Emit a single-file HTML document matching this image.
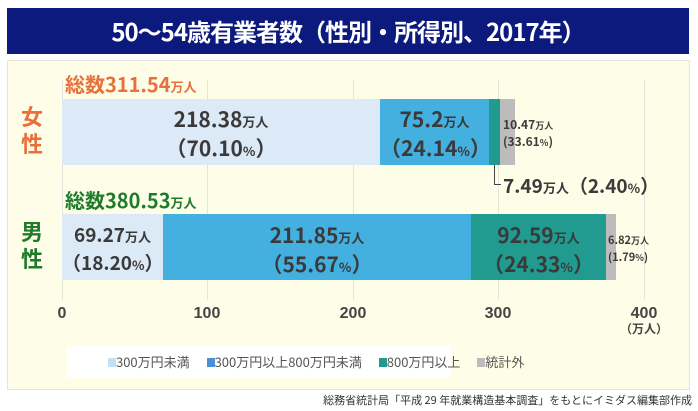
<!DOCTYPE html>
<html><head><meta charset="utf-8"><style>
*{margin:0;padding:0}
body{width:698px;height:411px;background:#fff;position:relative;overflow:hidden;font-family:"Liberation Sans","Noto Sans CJK JP",sans-serif}
.a{position:absolute}
.t{left:7px;top:8px;width:682px;height:46px;background:#0c1a7e;color:#fff;font-weight:bold;font-size:24px;line-height:46px;text-align:center;font-family:"Noto Sans CJK JP",sans-serif;letter-spacing:-1px}
.p{left:7px;top:60px;width:681px;height:328px;background:#fefee8;border:1px solid #e6e6dc}
.g{top:80px;width:1px;height:220px;background:#e4e4d8}
.bar{position:absolute}
.lb{position:absolute;text-align:center;color:#3a3a3a;font-weight:bold;font-family:"Noto Sans CJK JP",sans-serif;line-height:26px;font-size:21px}
.lb small{font-size:13px}
.tk{top:305px;font-weight:bold;color:#444;font-size:16px;width:60px;text-align:center;margin-left:-30px}
</style></head><body>
<div class="a t">50～54歳有業者数（性別・所得別、2017年）</div>
<div class="a p"></div>
<div class="a g" style="left:62px"></div><div class="a g" style="left:207px"></div><div class="a g" style="left:353px"></div><div class="a g" style="left:498px"></div><div class="a g" style="left:644px"></div>
<div class="a" style="left:21px;top:103px;color:#e8703a;font-weight:bold;font-size:22px;line-height:27px;font-family:'Noto Sans CJK JP',sans-serif">女<br>性</div>
<div class="a" style="left:21px;top:218px;color:#1f7a2a;font-weight:bold;font-size:22px;line-height:27px;font-family:'Noto Sans CJK JP',sans-serif">男<br>性</div>
<div class="a" style="left:65px;top:72px;color:#e8703a;font-weight:bold;font-size:20px;font-family:'Noto Sans CJK JP',sans-serif;line-height:24px">総数311.54<small style="font-size:13px">万人</small></div>
<div class="a" style="left:65px;top:188px;color:#1f7a2a;font-weight:bold;font-size:20px;font-family:'Noto Sans CJK JP',sans-serif;line-height:24px">総数380.53<small style="font-size:13px">万人</small></div>
<div class="bar" style="left:62px;top:99px;width:318px;height:66px;background:#dce9f6"></div>
<div class="bar" style="left:380px;top:99px;width:109px;height:66px;background:#44b0e0"></div>
<div class="bar" style="left:489px;top:99px;width:11px;height:66px;background:#219b8f"></div>
<div class="bar" style="left:500px;top:99px;width:15px;height:66px;background:#bcbcbc"></div>
<div class="bar" style="left:62px;top:214px;width:101px;height:66px;background:#dce9f6"></div>
<div class="bar" style="left:163px;top:214px;width:308px;height:66px;background:#44b0e0"></div>
<div class="bar" style="left:471px;top:214px;width:135px;height:66px;background:#219b8f"></div>
<div class="bar" style="left:606px;top:214px;width:10px;height:66px;background:#bcbcbc"></div>
<div class="lb" style="left:62px;top:106px;width:318px">218.38<small>万人</small><br>（70.10<small>%</small>）</div>
<div class="lb" style="left:380px;top:106px;width:109px">75.2<small>万人</small><br>（24.14<small>%</small>）</div>
<div class="lb" style="left:62px;top:222px;width:101px;font-size:19px">69.27<small>万人</small><br>（18.20<small>%</small>）</div>
<div class="lb" style="left:163px;top:222px;width:308px">211.85<small>万人</small><br>（55.67<small>%</small>）</div>
<div class="lb" style="left:471px;top:222px;width:135px">92.59<small>万人</small><br>（24.33<small>%</small>）</div>
<div class="lb" style="left:503px;top:117px;font-size:12px;line-height:16px;text-align:left">10.47<small style="font-size:9px">万人</small><br>(33.61<small style="font-size:9px">%</small>)</div>
<div class="lb" style="left:608px;top:232px;font-size:11px;line-height:16px;text-align:left">6.82<small style="font-size:9px">万人</small><br>(1.79<small style="font-size:9px">%</small>)</div>
<div class="a" style="left:494px;top:165px;width:6px;height:19px;border-left:1px solid #444;border-bottom:1px solid #444"></div>
<div class="lb" style="left:503px;top:173px;font-size:19px;text-align:left;white-space:nowrap">7.49<small>万人</small>（2.40<small>%</small>）</div>
<div class="a tk" style="left:62px">0</div><div class="a tk" style="left:207px">100</div><div class="a tk" style="left:353px">200</div><div class="a tk" style="left:498px">300</div><div class="a tk" style="left:644px">400</div>
<div class="a" style="left:614px;top:320px;width:60px;text-align:center;font-weight:bold;color:#444;font-size:12px">（万人）</div>
<div class="a" style="left:67px;top:346px;width:384px;height:32px;background:#fff;font-size:13px;color:#555;line-height:32px;white-space:nowrap;font-family:'Noto Sans CJK JP',sans-serif">
<span style="margin-left:41px;display:inline-block;width:8px;height:9px;background:#bfe3f4"></span>300万円未満
<span style="margin-left:14px;display:inline-block;width:8px;height:9px;background:#4a90d9"></span>300万円以上800万円未満
<span style="margin-left:14px;display:inline-block;width:8px;height:9px;background:#219b8f"></span>800万円以上
<span style="margin-left:14px;display:inline-block;width:8px;height:9px;background:#bcbcbc"></span>統計外</div>
<div class="a" style="right:6px;top:392px;font-size:11px;color:#333;font-family:'Noto Sans CJK JP',sans-serif;white-space:nowrap">総務省統計局「平成 29 年就業構造基本調査」をもとにイミダス編集部作成</div>
</body></html>
